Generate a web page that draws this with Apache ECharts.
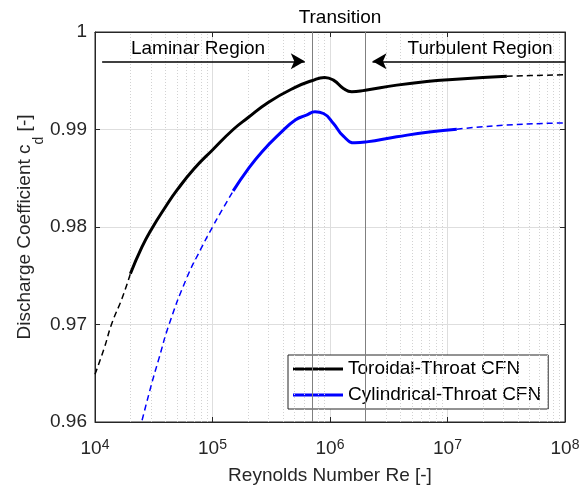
<!DOCTYPE html>
<html><head><meta charset="utf-8">
<script src="https://cdn.jsdelivr.net/npm/echarts@6/dist/echarts.min.js"></script>
<style>html,body{margin:0;padding:0;background:#fff}#c{width:587px;height:486px}</style>
</head><body><div id="c"></div>
<script>
const FONT = "'Liberation Sans', Arial, Helvetica, sans-serif";
const TXT = '#262626';

// axis ticks
const xMin = 1e4, xMax = 1e8;
const yTicks = [0.96, 0.97, 0.98, 0.99, 1];

// Toroidal-Throat CFN
const toroidalDashedLowRe = [1e4, 1.2e4, 1.39e4, 1.7e4, 2e4];
const toroidalDashedLowCd = [0.9649, 0.9676, 0.9701, 0.9727, 0.9752];
const toroidalRe = [2e4, 2.5e4, 3e4, 4e4, 5e4, 7e4, 1e5, 1.5e5, 2e5, 3e5, 5e5, 7e5, 9e5, 1.07e6, 1.3e6, 1.53e6, 2e6, 3.7e6, 7e6, 1.1e7, 2e7, 3.2e7];
const toroidalCd = [0.9752, 0.9779, 0.9797, 0.9821, 0.9838, 0.9860, 0.9879, 0.9900, 0.9912, 0.9928, 0.9943, 0.9950, 0.99534, 0.99506, 0.99421, 0.99386, 0.99403, 0.99455, 0.99495, 0.99513, 0.99533, 0.99547];
const toroidalDashedHighRe = [3.2e7, 5e7, 1e8];
const toroidalDashedHighCd = [0.99547, 0.99553, 0.99561];

// Cylindrical-Throat CFN
const cylDashedLowRe = [2.4e4, 3e4, 3.5e4, 4.27e4, 6e4, 8e4, 1e5, 1.2e5, 1.5e5];
const cylDashedLowCd = [0.9592, 0.9637, 0.9665, 0.9700, 0.9747, 0.9778, 0.9800, 0.9817, 0.9837];
const cylRe = [1.5e5, 2e5, 2.63e5, 3.75e5, 5.1e5, 6.3e5, 7.45e5, 8.8e5, 1.07e6, 1.3e6, 1.63e6, 2.05e6, 3.7e6, 7e6, 1.2e7];
const cylCd = [0.9837, 0.9859, 0.9877, 0.9896, 0.9910, 0.99147, 0.99181, 0.99164, 0.99062, 0.98931, 0.98863, 0.98873, 0.98925, 0.98975, 0.99003];
const cylDashedHighRe = [1.2e7, 3e7, 1e8];
const cylDashedHighCd = [0.99003, 0.99044, 0.99068];

// annotations
const transitionRe = [7e5, 2e6];
const arrowCd = 0.997;
const laminarArrow = [1.15e4, 6.1e5];
const turbulentArrow = [1e8, 2.3e6];

const minorRe = [];
for (let d = 1e4; d < 1e8; d *= 10) for (let k = 2; k <= 9; k++) minorRe.push(d * k);

const zip = (a, b) => a.map((v, i) => [v, b[i]]);

function lineSeries(name, re, cd, color, width, dashed) {
  return {
    name, type: 'line', data: zip(re, cd), showSymbol: false, symbol: 'none',
    smooth: 0.5, z: 5, color,
    lineStyle: { color, width, type: dashed ? [6, 4] : 'solid', cap: 'butt' },
    silent: true, animation: false
  };
}

const chart = echarts.init(document.getElementById('c'));
chart.setOption({
  animation: false,
  backgroundColor: '#fff',
  grid: { left: 95, top: 32, width: 470, height: 390, show: true, borderColor: TXT, borderWidth: 1, backgroundColor: 'transparent', containLabel: false, outerBoundsMode: 'none' },
  xAxis: [{
    type: 'log', logBase: 10, min: xMin, max: xMax,
    name: 'Reynolds Number Re [-]', nameLocation: 'middle', nameGap: 44, nameMoveOverlap: false,
    nameTextStyle: { fontSize: 19, fontFamily: FONT, color: TXT },
    axisLine: { show: true, lineStyle: { color: TXT } },
    axisTick: { show: true, inside: true, length: 5, lineStyle: { color: TXT } },
    splitLine: { show: true, lineStyle: { color: '#dedede', width: 1 } },
    axisLabel: {
      margin: 16, showMinLabel: true, showMaxLabel: true,
      formatter: v => '{b|10}{s|' + Math.round(Math.log10(v)) + '}',
      rich: {
        b: { fontSize: 19, fontFamily: FONT, color: TXT, verticalAlign: 'bottom', lineHeight: 20, padding: [11, 0, 0, 0] },
        s: { fontSize: 14, fontFamily: FONT, color: TXT, verticalAlign: 'top', lineHeight: 14 }
      }
    }
  }, {
    type: 'log', logBase: 10, min: xMin, max: xMax, position: 'top',
    axisLine: { show: true, lineStyle: { color: TXT } },
    axisTick: { show: true, inside: true, length: 5, lineStyle: { color: TXT } },
    axisLabel: { show: false }, splitLine: { show: false }
  }],
  yAxis: [{
    type: 'value', min: 0.96, max: 1, interval: 0.01,
    name: '{a|Discharge Coefficient c}{s|d}{a| [-]}', nameLocation: 'middle', nameGap: 60, nameMoveOverlap: false,
    nameTextStyle: {
      rich: {
        a: { fontSize: 19, fontFamily: FONT, color: TXT, verticalAlign: 'top', lineHeight: 20 },
        s: { fontSize: 14, fontFamily: FONT, color: TXT, verticalAlign: 'top', lineHeight: 14, padding: [17, 0, 0, 0] }
      }
    },
    axisLine: { show: true, lineStyle: { color: TXT } },
    axisTick: { show: true, inside: true, length: 5, lineStyle: { color: TXT } },
    splitLine: { show: true, lineStyle: { color: '#dedede', width: 1 } },
    axisLabel: {
      margin: 8, fontSize: 19, fontFamily: FONT, color: TXT,
      formatter: v => (Math.abs(v - 1) < 1e-9 ? '1' : v.toFixed(2))
    }
  }, {
    type: 'value', min: 0.96, max: 1, interval: 0.01, position: 'right',
    axisLine: { show: true, lineStyle: { color: TXT } },
    axisTick: { show: true, inside: true, length: 5, lineStyle: { color: TXT } },
    axisLabel: { show: false }, splitLine: { show: false }
  }],
  legend: {
    orient: 'vertical', left: 288, top: 355,
    data: ['Toroidal-Throat CFN', 'Cylindrical-Throat CFN'],
    icon: 'rect', itemWidth: 50, itemHeight: 3, itemGap: 6,
    backgroundColor: '#fff', borderColor: TXT, borderWidth: 1, borderRadius: 0,
    padding: [4, 7, 4, 5],
    textStyle: { fontSize: 19, fontFamily: FONT, color: '#000', lineHeight: 20 },
    selectedMode: false
  },
  graphic: [
    { type: 'text', x: 340, y: 17.5, style: { text: 'Transition', font: '19px ' + FONT, fill: '#000', align: 'center', verticalAlign: 'middle' }, z: 10 },
    { type: 'text', x: 198, y: 48.5, style: { text: 'Laminar Region', font: '19px ' + FONT, fill: '#000', align: 'center', verticalAlign: 'middle' }, z: 10 },
    { type: 'text', x: 480, y: 48.5, style: { text: 'Turbulent Region', font: '19px ' + FONT, fill: '#000', align: 'center', verticalAlign: 'middle' }, z: 10 }
  ],
  series: [
    {
      name: 'guides', type: 'line', data: [[xMin, 0.96]], symbol: 'none', showSymbol: false,
      lineStyle: { width: 0, opacity: 0 }, z: 1, silent: true,
      markLine: {
        silent: true, symbol: ['none', 'none'], label: { show: false }, animation: false,
        data: [
          ...minorRe.map(v => ({ xAxis: v, lineStyle: { color: '#d2d2d2', width: 1, type: [1, 2] } })),
          ...transitionRe.map(v => ({ xAxis: v, lineStyle: { color: '#808080', width: 1, type: 'solid' } }))
        ]
      }
    },
    {
      name: 'arrows', type: 'line', data: [[xMin, 0.96]], symbol: 'none', showSymbol: false,
      lineStyle: { width: 0, opacity: 0 }, z: 6, silent: true,
      markLine: {
        silent: true, symbol: ['none', 'arrow'], symbolSize: [12, 14], label: { show: false }, animation: false,
        lineStyle: { color: '#000', width: 1.5, type: 'solid' },
        data: [
          [{ coord: [laminarArrow[0], arrowCd] }, { coord: [laminarArrow[1], arrowCd] }],
          [{ coord: [turbulentArrow[0], arrowCd] }, { coord: [turbulentArrow[1], arrowCd] }]
        ]
      }
    },
    lineSeries('toroidalDashLow', toroidalDashedLowRe, toroidalDashedLowCd, '#000', 1.5, true),
    lineSeries('Toroidal-Throat CFN', toroidalRe, toroidalCd, '#000', 3, false),
    lineSeries('toroidalDashHigh', toroidalDashedHighRe, toroidalDashedHighCd, '#000', 1.5, true),
    lineSeries('cylDashLow', cylDashedLowRe, cylDashedLowCd, '#0000ff', 1.5, true),
    lineSeries('Cylindrical-Throat CFN', cylRe, cylCd, '#0000ff', 3, false),
    lineSeries('cylDashHigh', cylDashedHighRe, cylDashedHighCd, '#0000ff', 1.5, true)
  ]
});
</script></body></html>
